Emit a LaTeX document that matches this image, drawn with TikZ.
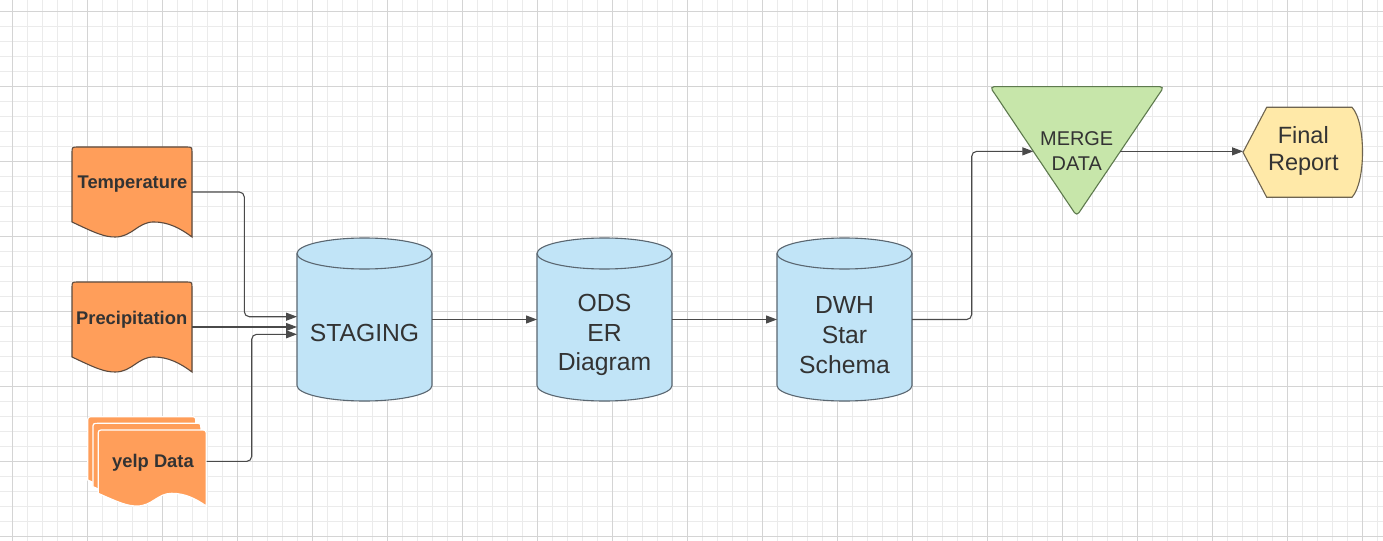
\documentclass[tikz,border=0pt]{standalone}
\usepackage{fontspec}
\setmainfont{Liberation Sans}
\usetikzlibrary{arrows.meta,calc}
\definecolor{gridminor}{HTML}{EBEBEB}
\definecolor{gridmajor}{HTML}{D4D4D4}
\definecolor{docfill}{HTML}{FF9E5A}
\definecolor{docline}{HTML}{5C4A3E}
\definecolor{cylfill}{HTML}{C1E4F7}
\definecolor{cylline}{HTML}{5A6670}
\definecolor{trifill}{HTML}{C7E6AA}
\definecolor{triline}{HTML}{5E7A4E}
\definecolor{finfill}{HTML}{FFE9A8}
\definecolor{finline}{HTML}{6E6450}
\definecolor{conncol}{HTML}{4A4A4A}
\definecolor{txt}{HTML}{333333}

% document shape: style, x0, top, w, h
\newcommand\docshape[5]{%
\path[#1] (#2,{#3+0.833*#5}) -- (#2,{#3+6}) .. controls (#2,#3) .. ({#2+6},#3)
 -- ({#2+#4-6},#3) .. controls ({#2+#4},#3) .. ({#2+#4},{#3+6})
 -- ({#2+#4},{#3+#5})
 .. controls ({#2+0.9*#4},{#3+0.9*#5}) and ({#2+0.8*#4},{#3+0.833*#5}) .. ({#2+0.68*#4},{#3+0.833*#5})
 .. controls ({#2+0.55*#4},{#3+0.833*#5}) and ({#2+0.5*#4},{#3+#5}) .. ({#2+0.36*#4},{#3+#5})
 .. controls ({#2+0.27*#4},{#3+#5}) and ({#2+0.2*#4},{#3+0.96*#5}) .. (#2,{#3+0.833*#5}) -- cycle;}

% cylinder: x0, x1, top ellipse centre y, bottom ellipse centre y
\newcommand\cylshape[4]{%
\path[cylbody] (#1,#3) -- (#1,#4) arc[start angle=180,end angle=0,x radius={(#2-#1)/2},y radius=15.5]
 -- (#2,#3) arc[start angle=0,end angle=-180,x radius={(#2-#1)/2},y radius=15.5] -- cycle;
\draw[cylborder] (#1,#3) arc[start angle=180,end angle=0,x radius={(#2-#1)/2},y radius=15.5];}

\tikzset{
 box/.style={draw=none,inner sep=0pt,outer sep=0pt},
 docstyle/.style={fill=docfill,draw=docline,line width=1.1bp},
 stackstyle/.style={fill=docfill,draw=white,line width=1.2bp},
 cylbody/.style={fill=cylfill,draw=cylline,line width=1.1bp},
 cylborder/.style={draw=cylline,line width=1.1bp},
 doctext/.style={box,text=txt,font=\fontsize{18.4}{22}\selectfont\bfseries},
 cyltext/.style={box,text=txt,align=center,font=\fontsize{24.8}{30}\selectfont},
 conn/.style={draw=conncol,line width=1.1bp,rounded corners=5bp,-{Triangle[length=11bp,width=8bp]}},
}

\begin{document}
\begin{tikzpicture}[x=1bp,y=-1bp]
\useasboundingbox (0,0) rectangle (1383,541);
\fill[white] (0,0) rectangle (1383,541);
% grid
\foreach \xx in {12.3,27.3,...,1383} \draw[gridminor,line width=1bp] (\xx,0) -- (\xx,541);
\foreach \yy in {11.7,26.7,...,541} \draw[gridminor,line width=1bp] (0,\yy) -- (1383,\yy);
\foreach \xx in {12.3,87.3,...,1383} \draw[gridmajor,line width=1bp] (\xx,0) -- (\xx,541);
\foreach \yy in {11.7,86.7,...,541} \draw[gridmajor,line width=1bp] (0,\yy) -- (1383,\yy);

% documents
\docshape{docstyle}{72}{147}{120}{90}
\node[box,minimum width=120bp,minimum height=90bp] (temp) at (132,192) {};
\node[doctext] (tempL) at (132.5,184.5) {Temperature};

\docshape{docstyle}{72}{282}{120}{90}
\node[box,minimum width=120bp,minimum height=90bp] (prec) at (132,327) {};
\node[doctext] (precL) at (131.7,319.8) {Precipitation};

\docshape{stackstyle}{87.7}{416.7}{108}{76}
\docshape{stackstyle}{92.9}{423.3}{108}{76}
\docshape{stackstyle}{98.2}{430}{108}{76}
\node[box,minimum width=118.5bp,minimum height=89.3bp] (yelp) at (147.45,461.4) {};
\node[doctext] (yelpL) at (153,463.2) {yelp Data};

% cylinders
\cylshape{297}{432}{253.5}{385.5}
\node[box,minimum width=135bp,minimum height=163bp] (stg) at (364.5,319.5) {};
\node[cyltext] (stgL) at (364.5,332.5) {STAGING};

\cylshape{537}{672}{253.5}{385.5}
\node[box,minimum width=135bp,minimum height=163bp] (ods) at (604.5,319.5) {};
\node[cyltext] (odsL) at (604.5,335) {ODS\\ER\\Diagram};

\cylshape{777}{912}{253.5}{385.5}
\node[box,minimum width=135bp,minimum height=163bp] (dwh) at (844.5,319.5) {};
\node[cyltext] (dwhL) at (844.5,335) {DWH\\Star\\Schema};

% merge triangle
\coordinate (mTL) at (990,86.7);
\coordinate (mTR) at (1164,86.7);
\coordinate (mB) at (1076.7,216);
\draw[fill=trifill,draw=triline,line width=1.1bp,rounded corners=4bp] (mTL) -- (mTR) -- (mB) -- cycle;
\coordinate (mIn) at ($(mTL)!0.5!(mB)$);
\coordinate (mOut) at ($(mTR)!0.5!(mB)$);
\node[box,text=txt,align=center,font=\fontsize{20}{25}\selectfont] (merge) at (1076.7,151) {MERGE\\DATA};

% final report (display shape)
\draw[fill=finfill,draw=finline,line width=1.1bp] (1243,152.3) -- (1266.7,107.3) -- (1352,107.3)
  .. controls (1366,122) and (1366,182) .. (1352,197.3) -- (1266.7,197.3) -- cycle;
\node[box,minimum width=119bp,minimum height=90bp] (fin) at (1302.5,152.3) {};
\node[box,text=txt,align=center,font=\fontsize{23.6}{27}\selectfont] (finL) at (1303.3,150.8) {Final\\Report};

% connectors
\draw[conn] (temp.east) -- (244.3,192) |- ([yshift=2.8bp]stg.west);
\draw[conn] (prec.east) -- (prec.east -| stg.west);
\draw[conn] (yelp.east) -- (251.7,461.4) |- ([yshift=-14.8bp]stg.west);
\draw[conn] (stg.east) -- (ods.west);
\draw[conn] (ods.east) -- (dwh.west);
\draw[conn] (dwh.east) -- (971.7,319.5) |- (mIn);
\draw[conn] (mOut) -- (mOut -| fin.west);
\end{tikzpicture}
\end{document}
